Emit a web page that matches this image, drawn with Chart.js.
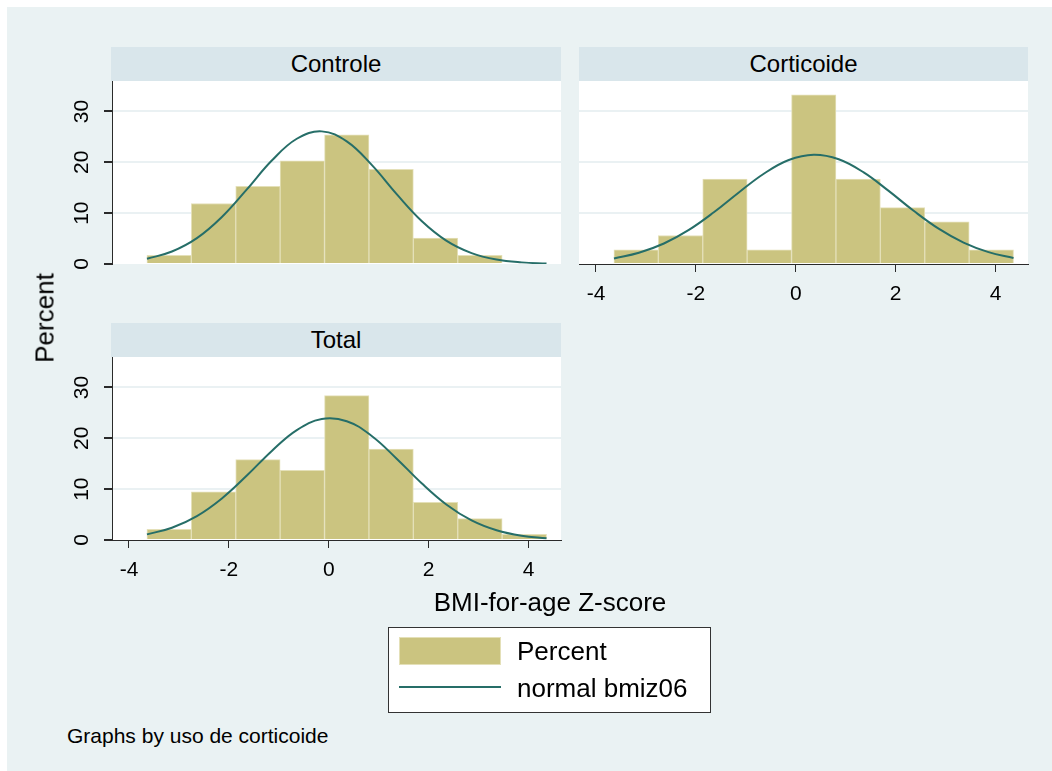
<!DOCTYPE html>
<html>
<head>
<meta charset="utf-8">
<title>BMI-for-age Z-score histograms</title>
<script src="https://cdn.jsdelivr.net/npm/chart.js@4.4.1/dist/chart.umd.min.js"></script>
<style>
  body { margin: 0; background: #fff; font-family: "Liberation Sans", Arial, sans-serif; color: #000; }
  #page { position: absolute; left: 7px; top: 7px; width: 1045px; height: 764px; background: #eaf2f3; }
  canvas { position: absolute; }
  .strip { position: absolute; height: 34px; line-height: 34px; background: #d9e6eb; text-align: center; font-size: 24px; }
  .txt { position: absolute; white-space: nowrap; }
  #legend { position: absolute; left: 388px; top: 627px; width: 323px; height: 86px; box-sizing: border-box; background: #fff; border: 1px solid #333; }
</style>
</head>
<body>
<div id="page"></div>

<canvas id="panelA" width="591" height="243" style="left:0px;top:51px"></canvas>
<canvas id="panelB" width="509" height="290" style="left:549px;top:51px"></canvas>
<canvas id="panelC" width="591" height="290" style="left:0px;top:327px"></canvas>

<div class="strip" style="left:111px;top:47px;width:450px">Controle</div>
<div class="strip" style="left:579px;top:47px;width:449px">Corticoide</div>
<div class="strip" style="left:111px;top:323px;width:450px">Total</div>

<div class="txt" style="left:45px;top:318px;font-size:26px;transform:translate(-50%,-50%) rotate(-90deg)">Percent</div>
<div class="txt" style="left:550px;top:602px;font-size:26px;transform:translate(-50%,-50%)">BMI-for-age Z-score</div>

<div id="legend"></div>
<div style="position:absolute;left:399px;top:637px;width:102px;height:28px;box-sizing:border-box;background:#cbc480;border:1px solid #e4e0b8"></div>
<div style="position:absolute;left:399px;top:686px;width:102px;height:2px;background:#266e68"></div>
<div class="txt" style="left:517px;top:651px;font-size:26px;transform:translateY(-50%)">Percent</div>
<div class="txt" style="left:517px;top:688px;font-size:26px;transform:translateY(-50%)">normal bmiz06</div>

<div class="txt" style="left:67px;top:724px;font-size:21px;line-height:24px">Graphs by uso de corticoide</div>

<script>
// histogram bins (width ~0.889, first edge at -3.64)
const binCenters = [-3.196, -2.307, -1.418, -0.529, 0.360, 1.249, 2.138, 3.027, 3.916];
const controlePct = [1.7, 11.9, 15.3, 20.3, 25.4, 18.6, 5.1, 1.7, 0];
const corticoidePct = [2.8, 5.6, 16.7, 2.8, 33.3, 16.7, 11.1, 8.3, 2.8];
const totalPct = [2.1, 9.5, 15.8, 13.7, 28.4, 17.9, 7.4, 4.2, 1.1];

// normal density overlays, in percent per bin
const curveX = [-3.64, -3.14, -2.64, -2.14, -1.64, -1.14, -0.64, -0.14, 0.36, 0.86, 1.36, 1.86, 2.36, 2.86, 3.36, 3.86, 4.36];
const controleCurve = [1.03, 2.45, 5.08, 9.24, 14.67, 20.35, 24.64, 26.09, 24.12, 19.49, 13.75, 8.47, 4.56, 2.15, 0.88, 0.32, 0.10];
const corticoideCurve = [1.10, 2.21, 4.03, 6.70, 10.17, 14.07, 17.76, 20.46, 21.50, 20.61, 18.02, 14.38, 10.47, 6.95, 4.21, 2.33, 1.17];
const totalCurve = [1.11, 2.42, 4.71, 8.18, 12.68, 17.53, 21.63, 23.80, 23.37, 20.47, 16.00, 11.16, 6.94, 3.85, 1.91, 0.84, 0.33];

const xTicks = [-4, -2, 0, 2, 4];
const yTicks = [0, 10, 20, 30];

const BAR_FILL = '#cbc480';
const BAR_EDGE = '#e4e0b8';
const LINE_COLOR = '#266e68';
const AXIS_COLOR = '#2a2a2a';
const GRID_COLOR = '#eaf1f3';

Chart.defaults.font.family = '"Liberation Sans", Arial, sans-serif';
Chart.defaults.color = '#000';

function pairs(xs, ys) {
  return xs.map((x, i) => ({ x: x, y: ys[i] }));
}

// white plot region behind the bars
const plotBackground = {
  id: 'plotBackground',
  beforeDraw(chart) {
    const a = chart.chartArea;
    const c = chart.ctx;
    c.save();
    c.fillStyle = '#fff';
    c.fillRect(a.left, a.top, a.right - a.left, a.bottom - a.top);
    c.restore();
  }
};

function makePanel(id, pct, curve, showX, showY) {
  return new Chart(document.getElementById(id), {
    type: 'bar',
    data: {
      datasets: [
        {
          type: 'line',
          data: pairs(curveX, curve),
          borderColor: LINE_COLOR,
          borderWidth: 2,
          pointRadius: 0,
          tension: 0.4,
          fill: false,
          order: 0
        },
        {
          type: 'bar',
          data: pairs(binCenters, pct),
          backgroundColor: BAR_FILL,
          borderColor: BAR_EDGE,
          borderWidth: 1,
          categoryPercentage: 1,
          barPercentage: 1,
          order: 1
        }
      ]
    },
    options: {
      responsive: false,
      animation: false,
      devicePixelRatio: 1,
      layout: { padding: 30 },
      plugins: { legend: { display: false }, tooltip: { enabled: false } },
      scales: {
        x: {
          type: 'linear',
          min: -4.34,
          max: 4.65,
          offset: false,
          display: showX,
          afterBuildTicks: s => { s.ticks = xTicks.map(v => ({ value: v })); },
          afterFit: s => { s.height = showX ? 47 : 0; },
          grid: { drawOnChartArea: false, tickLength: 8, color: AXIS_COLOR, offset: false },
          border: { color: AXIS_COLOR, width: 1 },
          ticks: { padding: 10, maxRotation: 0, font: { size: 21 }, color: '#000' }
        },
        y: {
          min: 0,
          max: 36,
          afterBuildTicks: s => { s.ticks = yTicks.map(v => ({ value: v })); },
          afterFit: s => { s.width = showY ? 82 : 0; },
          grid: {
            color: ctx => (ctx.tick && ctx.tick.value === 0) ? 'rgba(0,0,0,0)' : GRID_COLOR,
            lineWidth: 2,
            drawTicks: showY,
            tickLength: 8,
            tickColor: AXIS_COLOR
          },
          border: { display: showY, color: AXIS_COLOR, width: 1 },
          ticks: {
            display: showY,
            minRotation: 90,
            maxRotation: 90,
            crossAlign: 'center',
            padding: 10,
            font: { size: 21 },
            color: '#000'
          }
        }
      }
    },
    plugins: [plotBackground]
  });
}

makePanel('panelA', controlePct, controleCurve, false, true);
makePanel('panelB', corticoidePct, corticoideCurve, true, false);
makePanel('panelC', totalPct, totalCurve, true, true);
</script>
</body>
</html>
